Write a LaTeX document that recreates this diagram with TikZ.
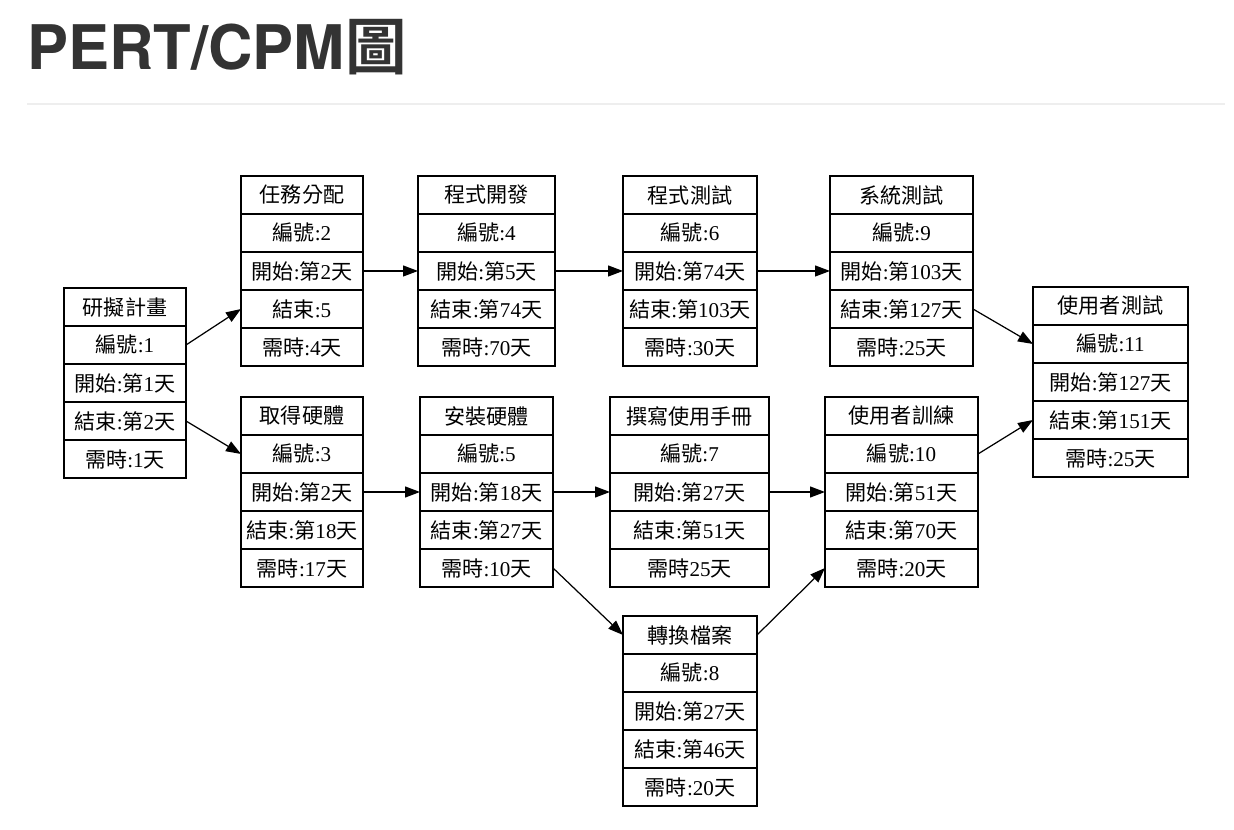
\documentclass[tikz,border=0pt]{standalone}
\usepackage{fontspec}
\setmainfont{Liberation Serif}
\newfontfamily\cjk{Noto Sans CJK TC}[BoldFont={* Bold}]
\newfontfamily\headfont{TeX Gyre Heros}
\usetikzlibrary{arrows.meta}
\definecolor{headgray}{HTML}{333333}
\definecolor{rulegray}{HTML}{EEEEEE}
\newcommand{\zh}[1]{{\cjk #1}}
% one PERT task: name, left, top, width, rows
\newcommand{\task}[5]{%
  \foreach \t [count=\i] in {#5}
    \node[cell, minimum width=#4*0.02cm, anchor=north west] (#1-\i) at (#2,{#3+(\i-1)*38}) {\t};
}

\begin{document}
\begin{tikzpicture}[
  x=0.02cm, y=-0.02cm,
  cell/.style={
    draw,
    line width=0.7pt,
    minimum height=0.76cm,
    inner sep=0pt,
    outer sep=0pt,
    font=\fontsize{12}{14}\selectfont
  },
  conn/.style={-{Triangle[length=0.3cm,width=0.22cm]},line width=0.7pt}
]
\useasboundingbox (0,0) rectangle (1234,830);

\node[anchor=base west, inner sep=0pt, text=headgray, font=\headfont\bfseries\fontsize{35}{40}\selectfont] (title) at (27,70) {PERT/CPM{\cjk\bfseries 圖}};
\coordinate (ruleL) at (27,104);
\coordinate (ruleR) at (1225,104);
\draw[rulegray, line width=1.5pt] (ruleL) -- (ruleR);

\task{n1}{64}{288}{122}{{\zh{研擬計畫}}, {\zh{編號}:1}, {\zh{開始}:\zh{第}1\zh{天}}, {\zh{結束}:\zh{第}2\zh{天}}, {\zh{需時}:1\zh{天}}}
\task{n2}{241}{176}{122}{{\zh{任務分配}}, {\zh{編號}:2}, {\zh{開始}:\zh{第}2\zh{天}}, {\zh{結束}:5}, {\zh{需時}:4\zh{天}}}
\task{n3}{241}{397}{122}{{\zh{取得硬體}}, {\zh{編號}:3}, {\zh{開始}:\zh{第}2\zh{天}}, {\zh{結束}:\zh{第}18\zh{天}}, {\zh{需時}:17\zh{天}}}
\task{n4}{418}{176}{137}{{\zh{程式開發}}, {\zh{編號}:4}, {\zh{開始}:\zh{第}5\zh{天}}, {\zh{結束}:\zh{第}74\zh{天}}, {\zh{需時}:70\zh{天}}}
\task{n5}{420}{397}{133}{{\zh{安裝硬體}}, {\zh{編號}:5}, {\zh{開始}:\zh{第}18\zh{天}}, {\zh{結束}:\zh{第}27\zh{天}}, {\zh{需時}:10\zh{天}}}
\task{n6}{623}{176}{134}{{\zh{程式測試}}, {\zh{編號}:6}, {\zh{開始}:\zh{第}74\zh{天}}, {\zh{結束}:\zh{第}103\zh{天}}, {\zh{需時}:30\zh{天}}}
\task{n7}{610}{397}{159}{{\zh{撰寫使用手冊}}, {\zh{編號}:7}, {\zh{開始}:\zh{第}27\zh{天}}, {\zh{結束}:\zh{第}51\zh{天}}, {\zh{需時}25\zh{天}}}
\task{n8}{623}{616}{134}{{\zh{轉換檔案}}, {\zh{編號}:8}, {\zh{開始}:\zh{第}27\zh{天}}, {\zh{結束}:\zh{第}46\zh{天}}, {\zh{需時}:20\zh{天}}}
\task{n9}{830}{176}{143}{{\zh{系統測試}}, {\zh{編號}:9}, {\zh{開始}:\zh{第}103\zh{天}}, {\zh{結束}:\zh{第}127\zh{天}}, {\zh{需時}:25\zh{天}}}
\task{n10}{825}{397}{153}{{\zh{使用者訓練}}, {\zh{編號}:10}, {\zh{開始}:\zh{第}51\zh{天}}, {\zh{結束}:\zh{第}70\zh{天}}, {\zh{需時}:20\zh{天}}}
\task{n11}{1033}{287}{155}{{\zh{使用者測試}}, {\zh{編號}:11}, {\zh{開始}:\zh{第}127\zh{天}}, {\zh{結束}:\zh{第}151\zh{天}}, {\zh{需時}:25\zh{天}}}

\draw[conn] (n1-2.east) -- (n2-4.west);
\draw[conn] (n1-4.east) -- (n3-2.west);
\draw[conn] (n2-3.east) -- (n4-3.west);
\draw[conn] (n4-3.east) -- (n6-3.west);
\draw[conn] (n6-3.east) -- (n9-3.west);
\draw[conn] (n9-4.east) -- (n11-2.west);
\draw[conn] (n3-3.east) -- (n5-3.west);
\draw[conn] (n5-3.east) -- (n7-3.west);
\draw[conn] (n7-3.east) -- (n10-3.west);
\draw[conn] (n5-5.east) -- (n8-1.west);
\draw[conn] (n8-1.east) -- (n10-5.west);
\draw[conn] (n10-2.east) -- (n11-4.west);
\end{tikzpicture}
\end{document}
